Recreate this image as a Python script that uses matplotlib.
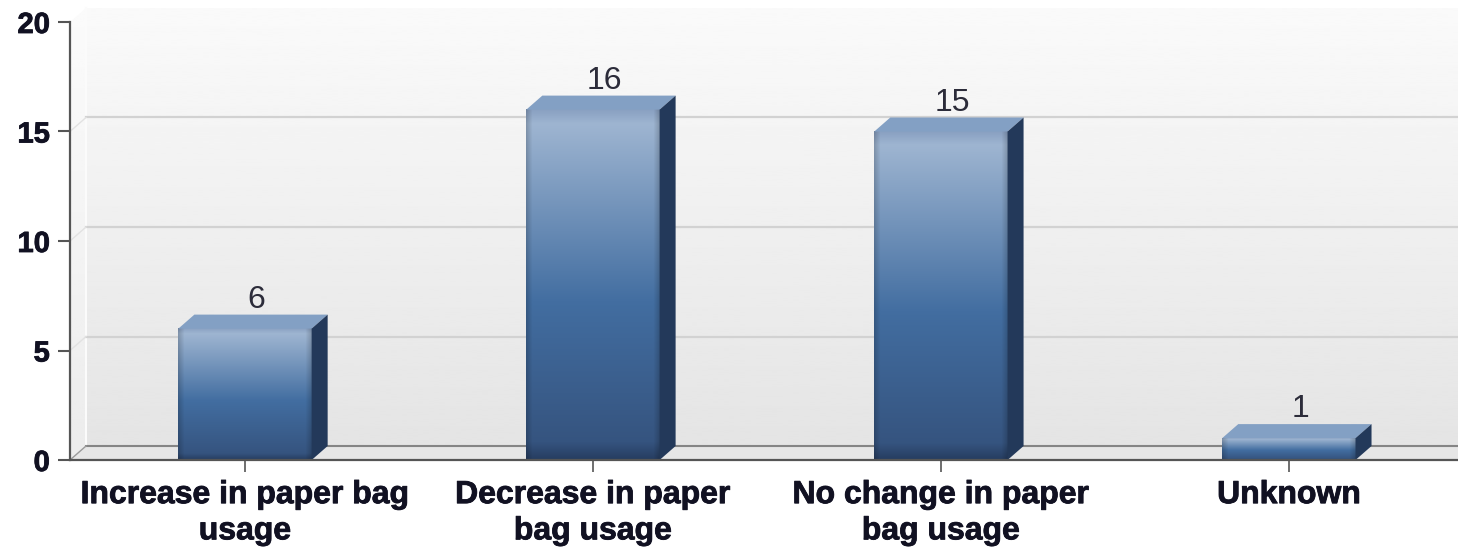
"""Paper bag usage: 3D-look column chart drawn with plain matplotlib."""
import matplotlib
matplotlib.use("Agg")
import matplotlib.pyplot as plt
import matplotlib.patheffects as pe
from matplotlib.patches import Polygon
import numpy as np

categories = ["Increase in paper bag\nusage", "Decrease in paper\nbag usage",
              "No change in paper\nbag usage", "Unknown"]
counts = [6, 16, 15, 1]
y_ticks = [0, 5, 10, 15, 20]

W, H = 1458, 547
LEFT, RIGHT, BOTTOM, TOP = 70, 1458, 460, 22
BAR_WIDTH = 0.383
XMIN, XMAX = -0.503, 3.486
# depth of the fake 3D effect, in data units
DX = 16 / 348
DY = 14 / 21.9

plt.rcParams["font.family"] = ["Liberation Sans", "DejaVu Sans"]

fig = plt.figure(figsize=(W / 100, H / 100), dpi=100, facecolor="white")
ax = fig.add_axes([LEFT / W, (H - BOTTOM) / H, (RIGHT - LEFT) / W, (BOTTOM - TOP) / H])
ax.set_facecolor("white")

wall_x = XMIN + DX

# back wall, floor and left wall
wall_grad = np.interp(np.linspace(0, 1, 256), [0, 1], [0.98, 0.895])[:, None]
im = ax.imshow(wall_grad, cmap="gray", vmin=0, vmax=1, aspect="auto", zorder=0,
               extent=(wall_x, XMAX, DY, 20 + DY))
im.set_clip_on(False)
im2 = ax.imshow(wall_grad, cmap="gray", vmin=0, vmax=1, aspect="auto", zorder=0.5,
                extent=(XMIN, wall_x, 0, 20 + DY), alpha=0.7)
im2.set_clip_on(False)
ax.add_patch(Polygon([(XMIN, 20), (XMIN, 20 + DY), (wall_x, 20 + DY)],
                     closed=True, fc="white", ec="none", zorder=0.55, clip_on=False))
ax.add_patch(Polygon([(XMIN, 0), (wall_x, DY), (XMAX, DY), (XMAX, 0)],
                     closed=True, fc="#e6e6e6", ec="none", zorder=0.6))
ax.plot([wall_x, wall_x], [DY, 20 + DY], color="#fbfbfb", lw=1.5, zorder=0.6, clip_on=False)
ax.plot([wall_x, XMAX], [DY, DY], color="#858585", lw=1.5, zorder=0.8)
ax.plot([XMIN, wall_x], [0, DY], color="#9a9a9a", lw=1, zorder=0.8)

# gridlines sit on the back wall
for t in y_ticks[1:-1]:
    ax.plot([wall_x, XMAX], [t + DY, t + DY], color="#d2d2d2", lw=1.6, zorder=0.8)
    ax.plot([XMIN, wall_x], [t, t + DY], color="#e2e2e2", lw=1, zorder=0.8)

# vertical colour ramp of a bar front
stops = [0.0, 0.04, 0.55, 0.95, 1.0]
ramp_r = [0.54, 0.62, 0.26, 0.21, 0.15]
ramp_g = [0.63, 0.71, 0.43, 0.33, 0.24]
ramp_b = [0.76, 0.82, 0.63, 0.50, 0.38]


def bar_image():
    t = np.linspace(0, 1, 200)
    rgb = np.dstack([np.interp(t, stops, c)[:, None] * np.ones((200, 132)) for c in
                     (ramp_r, ramp_g, ramp_b)])
    # dark bevel on the left and right edges
    edge = np.minimum(np.arange(132), np.arange(131, -1, -1))
    shade = 0.82 + 0.18 * np.clip(edge / 6, 0, 1)
    return rgb * shade[None, :, None]


for i, v in enumerate(counts):
    x0, x1 = i - BAR_WIDTH / 2, i + BAR_WIDTH / 2
    ax.imshow(bar_image(), aspect="auto", zorder=3, extent=(x0, x1, 0, v),
              interpolation="bilinear")
    ax.add_patch(Polygon([(x0, v), (x0 + DX, v + DY), (x1 + DX, v + DY), (x1, v)],
                         closed=True, fc="#83a0c4", ec="none", zorder=3))
    ax.add_patch(Polygon([(x1, 0), (x1 + DX, DY), (x1 + DX, v + DY), (x1, v)],
                         closed=True, fc="#23395a", ec="none", zorder=3))
    ax.annotate(str(v), xy=(i, v + DY), xytext=(8, 5), textcoords="offset points",
                ha="center", va="baseline", fontsize=23, color="#2c2c3a", zorder=4,
                annotation_clip=False)

ax.set_xlim(XMIN, XMAX)
ax.set_ylim(0, 20)
ax.set_xticks(range(len(categories)))
ax.set_xticklabels(categories, fontsize=23, fontweight="bold", color="#111122",
                   linespacing=1.27)
ax.set_yticks(y_ticks)
ax.set_yticklabels([str(t) for t in y_ticks], fontsize=21, fontweight="bold", color="#111122")
ax.tick_params(axis="x", length=8.5, width=1.2, color="#555555", pad=6)
ax.tick_params(axis="y", length=8.5, width=1.5, color="#555555", pad=6)
for label in ax.get_xticklabels() + ax.get_yticklabels():
    label.set_path_effects([pe.withStroke(linewidth=0.6, foreground="#111122")])

for side in ("top", "right"):
    ax.spines[side].set_visible(False)
for side in ("left", "bottom"):
    ax.spines[side].set_color("#555555")
    ax.spines[side].set_linewidth(1.6)
    ax.spines[side].set_zorder(5)

fig.savefig("out.png", dpi=100)
